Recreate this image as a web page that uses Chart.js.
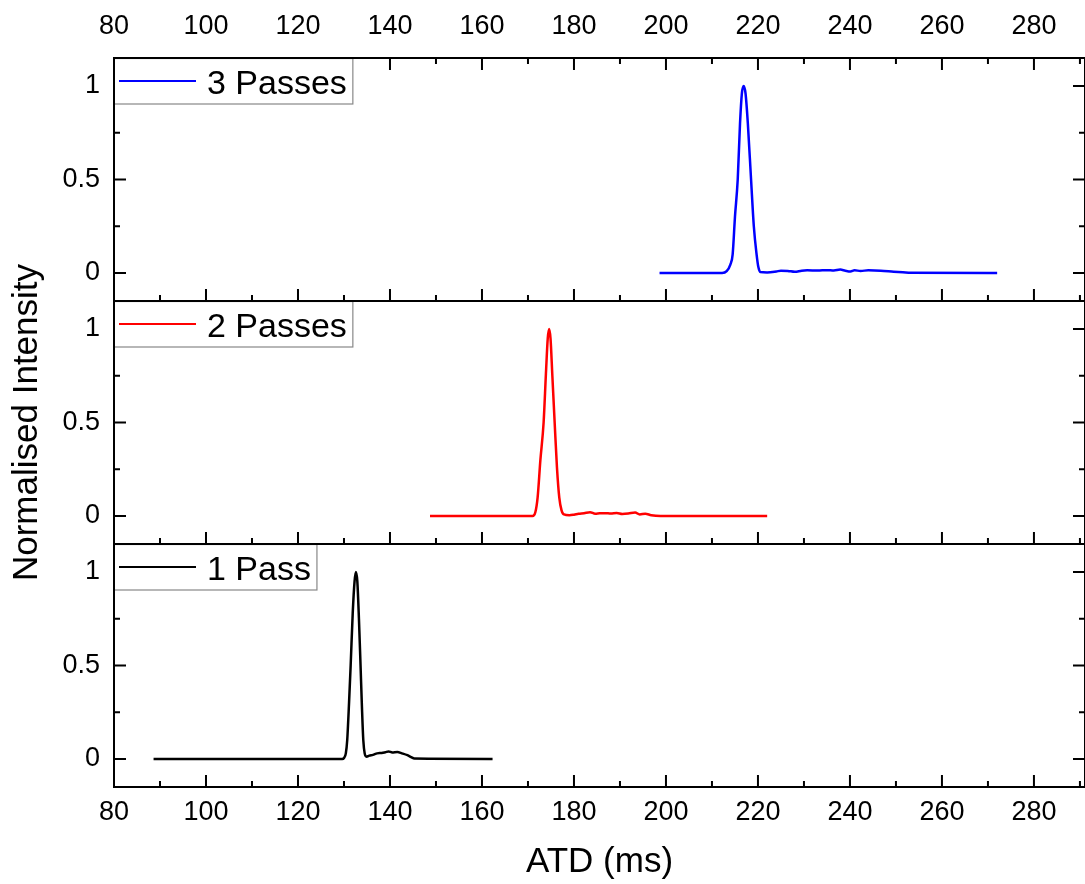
<!DOCTYPE html>
<html>
<head>
<meta charset="utf-8">
<script src="https://cdn.jsdelivr.net/npm/chart.js@4.4.1/dist/chart.umd.min.js"></script>
<style>
  html, body { margin: 0; padding: 0; background: #fff; }
  #wrap { width: 1085px; height: 884px; position: relative; }
</style>
</head>
<body>
<div id="wrap"><canvas id="atd"></canvas></div>
<script>
// Arrival time distributions, normalised
const pass1X = [88.6, 129.6, 130.0, 130.4, 130.7, 131.1, 131.45, 131.9, 132.3, 132.6, 132.9, 133.25, 133.6, 133.9, 134.2, 134.5, 134.9, 135.5, 136.3, 137.2, 138.2, 139.0, 139.7, 140.5, 141.6, 142.6, 143.8, 144.6, 145.3, 162.3];
const pass1Y = [0, 0, 0.005, 0.03, 0.1, 0.3, 0.5, 0.78, 0.95, 1.0, 0.95, 0.75, 0.5, 0.28, 0.1, 0.03, 0.012, 0.018, 0.022, 0.03, 0.032, 0.036, 0.04, 0.035, 0.037, 0.03, 0.02, 0.01, 0.002, 0];

const pass2X = [148.7, 171.0, 171.6, 172.1, 172.7, 173.4, 173.9, 174.3, 174.6, 174.9, 175.3, 175.8, 176.3, 176.8, 177.3, 177.8, 179.0, 180.0, 181.0, 182.2, 183.5, 184.6, 185.6, 186.8, 188.0, 189.3, 190.5, 191.8, 193.3, 194.3, 195.5, 196.8, 198.8, 222.0];
const pass2Y = [0, 0, 0.02, 0.1, 0.3, 0.5, 0.76, 0.95, 1.0, 0.95, 0.75, 0.5, 0.26, 0.1, 0.03, 0.008, 0.004, 0.007, 0.012, 0.015, 0.02, 0.012, 0.014, 0.015, 0.013, 0.016, 0.011, 0.013, 0.018, 0.008, 0.012, 0.004, 0, 0];

const pass3X = [198.6, 212.2, 213.2, 214.0, 214.5, 215.0, 215.6, 216.1, 216.5, 216.9, 217.3, 217.8, 218.5, 219.1, 219.7, 220.1, 220.5, 222.0, 224.0, 225.0, 226.5, 228.0, 229.5, 230.7, 233.0, 235.0, 236.5, 237.9, 239.0, 240.1, 241.0, 242.3, 244.0, 246.7, 249.5, 251.5, 253.2, 272.0];
const pass3Y = [0, 0, 0.01, 0.045, 0.1, 0.3, 0.5, 0.8, 0.96, 1.0, 0.96, 0.8, 0.5, 0.25, 0.1, 0.03, 0.005, 0.003, 0.008, 0.012, 0.011, 0.006, 0.012, 0.014, 0.013, 0.015, 0.013, 0.018, 0.012, 0.008, 0.014, 0.011, 0.014, 0.012, 0.007, 0.004, 0.001, 0];

const seriesLabels = ['1 Pass', '2 Passes', '3 Passes'];
const seriesColors = ['#000000', '#ff0000', '#0000ff'];

const xTicks = [80, 100, 120, 140, 160, 180, 200, 220, 240, 260, 280];
const xMinor = [90, 110, 130, 150, 170, 190, 210, 230, 250, 270, 290];
const yTicks = [0, 0.5, 1];
const yMinor = [0.25, 0.75];

const FONT = "'Liberation Sans', Arial, sans-serif";

function toPoints(xs, ys) {
  return xs.map((x, i) => ({ x, y: ys[i] }));
}

// ticks inside the frame + legend boxes + panel frames
const panelFrame = {
  id: 'panelFrame',
  afterDatasetsDraw(chart) {
    const { ctx, chartArea: { left, right } } = chart;
    const xs = chart.scales.x;
    const panels = ['y3', 'y2', 'y1'];
    ctx.save();
    ctx.strokeStyle = '#000';
    ctx.lineWidth = 2;

    panels.forEach((id, i) => {
      const ys = chart.scales[id];
      const top = ys.top, bottom = ys.bottom;
      ctx.beginPath();
      const yMark = (v, len) => {
        const p = ys.getPixelForValue(v);
        ctx.moveTo(left, p); ctx.lineTo(left + len, p);
        ctx.moveTo(right, p); ctx.lineTo(right - len, p);
      };
      const xMark = (v, len) => {
        const p = xs.getPixelForValue(v);
        ctx.moveTo(p, bottom); ctx.lineTo(p, bottom - len);
        if (i === 0) { ctx.moveTo(p, top); ctx.lineTo(p, top + len); }
      };
      yTicks.forEach(v => yMark(v, 12));
      yMinor.forEach(v => yMark(v, 6));
      xTicks.forEach(v => xMark(v, 12));
      xMinor.forEach(v => xMark(v, 6));
      ctx.stroke();

      // legend for this panel
      const ds = chart.data.datasets.find(d => d.yAxisID === id);
      ctx.font = '34px ' + FONT;
      const tw = ctx.measureText(ds.label).width;
      const bw = 93 + tw + 6;
      ctx.fillStyle = '#fff';
      ctx.fillRect(left, top, bw, 46);
      ctx.save();
      ctx.strokeStyle = '#888';
      ctx.lineWidth = 1.2;
      ctx.strokeRect(left, top + 0.5, bw, 45.5);
      ctx.restore();
      ctx.beginPath();
      ctx.strokeStyle = ds.borderColor;
      ctx.moveTo(left + 5, top + 23);
      ctx.lineTo(left + 82, top + 23);
      ctx.stroke();
      ctx.strokeStyle = '#000';
      ctx.fillStyle = '#000';
      ctx.textBaseline = 'alphabetic';
      ctx.textAlign = 'left';
      ctx.fillText(ds.label, left + 93, top + 35.5);

      ctx.strokeRect(left, top, right - left, bottom - top);
    });
    ctx.restore();
  }
};

function panelAxis(weight, withTitle) {
  return {
    type: 'linear',
    position: 'left',
    stack: 'panels',
    weight,
    min: -0.15,
    max: 1.15,
    grid: { display: false, drawTicks: false },
    border: { display: false },
    ticks: {
      color: '#000',
      font: { family: FONT, size: 27 },
      padding: 14,
      callback: v => String(v)
    },
    afterBuildTicks: s => { s.ticks = yTicks.map(v => ({ value: v })); },
    afterFit: s => { s.width = 114; },
    title: {
      display: withTitle,
      text: 'Normalised Intensity',
      color: '#000',
      font: { family: FONT, size: 35, lineHeight: 1.2 },
      padding: { top: 6, bottom: 0 }
    }
  };
}

function xAxis(position, height, pad, withTitle) {
  return {
    type: 'linear',
    position,
    min: 80,
    max: 291.1,
    grid: { display: false, drawTicks: false },
    border: { display: false },
    ticks: {
      color: '#000',
      font: { family: FONT, size: 27 },
      padding: pad,
      maxRotation: 0,
      autoSkip: false,
      callback: v => String(v)
    },
    afterBuildTicks: s => { s.ticks = xTicks.map(v => ({ value: v })); },
    afterFit: s => { s.height = height; },
    title: {
      display: withTitle,
      text: 'ATD (ms)',
      color: '#000',
      font: { family: FONT, size: 35, lineHeight: 1.2 },
      padding: { top: 0, bottom: 1 }
    }
  };
}

const datasets = [
  { label: seriesLabels[0], data: toPoints(pass1X, pass1Y), borderColor: seriesColors[0], yAxisID: 'y1' },
  { label: seriesLabels[1], data: toPoints(pass2X, pass2Y), borderColor: seriesColors[1], yAxisID: 'y2' },
  { label: seriesLabels[2], data: toPoints(pass3X, pass3Y), borderColor: seriesColors[2], yAxisID: 'y3' }
].map(d => ({
  ...d,
  xAxisID: 'x',
  borderWidth: 2.5,
  pointRadius: 0,
  cubicInterpolationMode: 'monotone',
  fill: false
}));

new Chart(document.getElementById('atd'), {
  type: 'line',
  data: { datasets },
  options: {
    responsive: true,
    maintainAspectRatio: false,
    animation: false,
    layout: { padding: 0 },
    plugins: { legend: { display: false }, tooltip: { enabled: false } },
    scales: {
      x: xAxis('bottom', 97, 9, true),
      x2: xAxis('top', 58, 15, false),
      y1: panelAxis(1, false),
      y2: panelAxis(2, true),
      y3: panelAxis(3, false)
    }
  },
  plugins: [panelFrame]
});
</script>
</body>
</html>
